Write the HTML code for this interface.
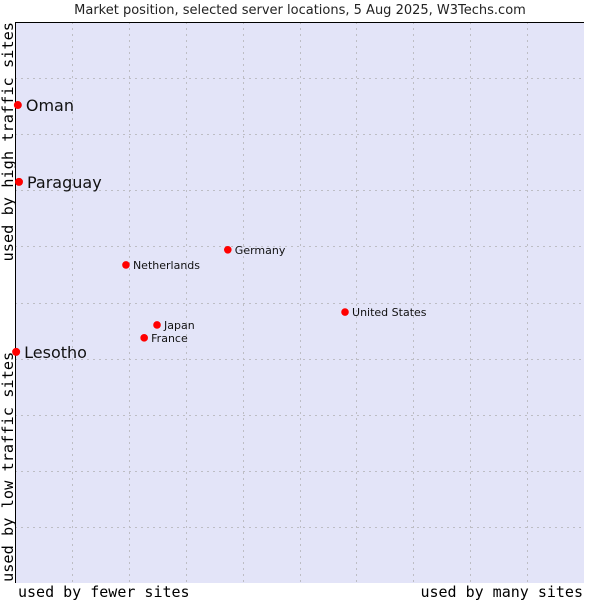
<!DOCTYPE html>
<html><head><meta charset="utf-8"><style>
body{margin:0;background:#fff;width:600px;height:600px;overflow:hidden}
svg text{font-family:"DejaVu Sans","Liberation Sans",sans-serif}
</style></head><body>
<svg id="chart" width="600" height="600" xmlns="http://www.w3.org/2000/svg">
<text x="300" y="14" text-anchor="middle" font-size="13" fill="#222">Market position, selected server locations, 5 Aug 2025, W3Techs.com</text>
<rect x="15" y="22" width="569" height="561" fill="#e3e4f8"/>
<g id="grid"></g>
<line x1="15.5" y1="22" x2="15.5" y2="583" stroke="#000"/>
<line x1="15" y1="22.5" x2="584" y2="22.5" stroke="#000"/>
<g id="points"></g>
<text x="18" y="597" font-size="15" style="font-family:'DejaVu Sans Mono','Liberation Mono',monospace">used by fewer sites</text>
<text x="583" y="597" text-anchor="end" font-size="15" style="font-family:'DejaVu Sans Mono','Liberation Mono',monospace">used by many sites</text>
<text transform="translate(13,22) rotate(-90)" text-anchor="end" font-size="15.3" style="font-family:'DejaVu Sans Mono','Liberation Mono',monospace">used by high traffic sites</text>
<text transform="translate(13,582) rotate(-90)" font-size="15.3" style="font-family:'DejaVu Sans Mono','Liberation Mono',monospace">used by low traffic sites</text>
</svg>
<script>
const names=["Oman","Paraguay","Lesotho","Netherlands","Germany","United States","Japan","France"];
const xValues=[0.5,0.7,0.2,19.5,37.4,58.0,24.96,22.7];
const yValues=[85.2,71.5,41.2,56.7,59.4,48.3,46.0,43.7];
const bigLabel=[true,true,true,false,false,false,false,false];
const NS="http://www.w3.org/2000/svg";
const X0=15,W=569,Y0=22,H=561;
function sx(v){return X0+v/100*W;}
function sy(v){return Y0+H-v/100*H;}
const grid=document.getElementById('grid');
for(let i=1;i<10;i++){
 const gx=Math.round(sx(i*10))+0.5, gy=Math.round(sy(i*10))+0.5;
 const a=document.createElementNS(NS,'line');
 
 
 a.setAttribute('x1',gx);a.setAttribute('x2',gx);a.setAttribute('y1',Y0);a.setAttribute('y2',Y0+H);
 a.setAttribute('stroke','#bdbdc4');a.setAttribute('stroke-dasharray','2,4');grid.appendChild(a);
 const b=document.createElementNS(NS,'line');
 
 
 b.setAttribute('y1',gy);b.setAttribute('y2',gy);b.setAttribute('x1',X0);b.setAttribute('x2',X0+W);
 b.setAttribute('stroke','#bdbdc4');b.setAttribute('stroke-dasharray','2,4');grid.appendChild(b);
}
const pts=document.getElementById('points');
names.forEach((n,i)=>{
 const x=sx(xValues[i]),y=sy(yValues[i]);
 const c=document.createElementNS(NS,'circle');
 
 
 c.setAttribute('cx',x);c.setAttribute('cy',y);c.setAttribute('r',bigLabel[i]?4:3.8);c.setAttribute('fill','#f00');
 pts.appendChild(c);
 const t=document.createElementNS(NS,'text');
 
 
 t.setAttribute('x',x+(bigLabel[i]?8:7));t.setAttribute('y',y+(bigLabel[i]?6:4));
 t.setAttribute('font-size',bigLabel[i]?16:11);t.setAttribute('fill','#111');
 t.textContent=n;pts.appendChild(t);
});
</script>
</body></html>
